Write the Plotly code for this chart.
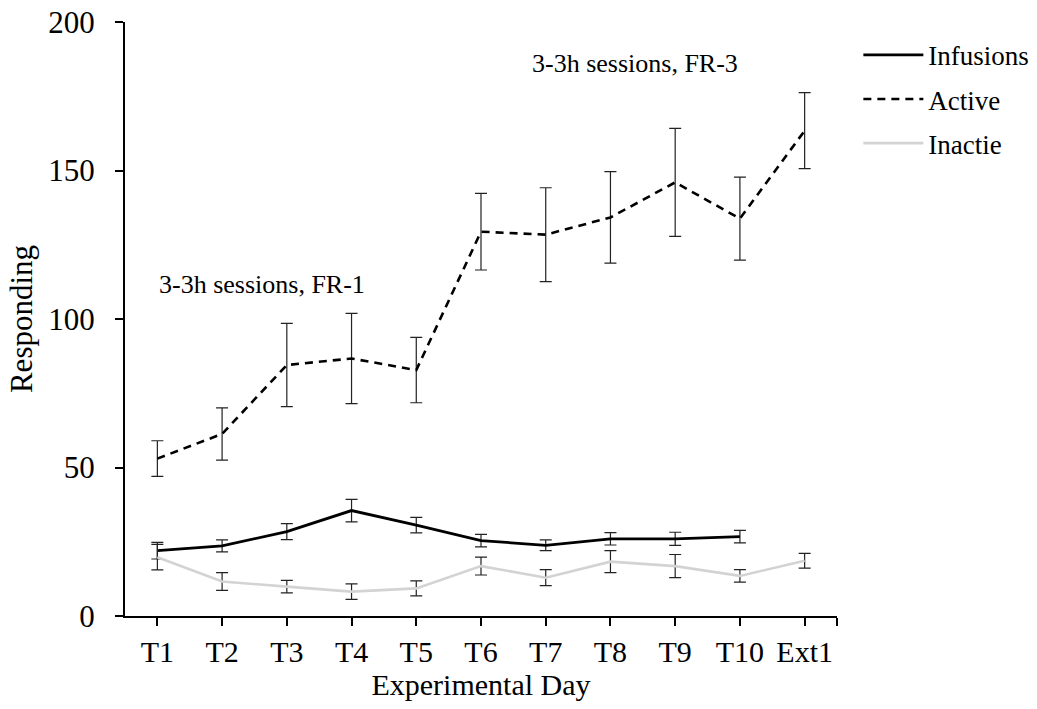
import plotly.graph_objects as go

days = ["T1", "T2", "T3", "T4", "T5", "T6", "T7", "T8", "T9", "T10", "Ext1"]
x_idx = list(range(len(days)))

infusions = [22.0, 23.6, 28.4, 35.5, 30.6, 25.4, 23.8, 26.0, 26.0, 26.7]
infusions_err = [2.8, 2.0, 2.7, 3.8, 2.6, 2.1, 1.8, 2.1, 2.2, 2.1]

active = [53.0, 61.3, 84.5, 86.7, 82.8, 129.4, 128.4, 134.2, 146.0, 133.8, 163.4]
active_err = [6.0, 8.8, 14.0, 15.2, 11.0, 12.9, 15.8, 15.4, 18.2, 14.0, 12.8]

inactive = [19.8, 11.6, 9.9, 8.2, 9.3, 16.8, 12.9, 18.3, 16.8, 13.5, 18.6]
inactive_err = [4.3, 3.0, 2.1, 2.6, 2.5, 3.0, 2.7, 3.7, 3.9, 2.1, 2.5]

y_ticks = [0, 50, 100, 150, 200]

FONT = "Liberation Serif"
err_style = dict(type="data", visible=True, color="#222222", thickness=1.2, width=6)

fig = go.Figure()
fig.add_trace(go.Scatter(
    x=x_idx[:len(infusions)], y=infusions, name="Infusions", mode="lines",
    line=dict(color="black", width=2.8),
    error_y=dict(array=infusions_err, **err_style), legendgroup="a"))
fig.add_trace(go.Scatter(
    x=x_idx, y=active, name="Active", mode="lines",
    line=dict(color="black", width=2.6, dash="8px,6px"),
    error_y=dict(array=active_err, **err_style), legendgroup="b"))
fig.add_trace(go.Scatter(
    x=x_idx, y=inactive, name="Inactie", mode="lines",
    line=dict(color="#d3d3d3", width=2.6),
    error_y=dict(array=inactive_err, **err_style), legendgroup="c"))

fig.update_layout(
    width=1037, height=709,
    margin=dict(l=125, r=200, t=22, b=93, autoexpand=False),
    paper_bgcolor="white", plot_bgcolor="white",
    font=dict(family=FONT, size=30, color="black"),
    showlegend=True,
    legend=dict(x=1.03, y=0.985, xanchor="left", yanchor="top",
                font=dict(family=FONT, size=27, color="black"),
                tracegroupgap=6, itemwidth=60, bgcolor="rgba(0,0,0,0)"),
    xaxis=dict(
        range=[-0.5, 10.5], tickmode="array",
        tickvals=x_idx + [10.5], ticktext=days + [""],
        showline=True, linecolor="black", linewidth=2,
        ticks="outside", ticklen=8, tickwidth=2, tickcolor="black",
        showgrid=False, zeroline=False, automargin=False,
        tickfont=dict(family=FONT, size=30),
        title=dict(text="Experimental Day", font=dict(family=FONT, size=30), standoff=3),
    ),
    yaxis=dict(
        range=[0, 200], tickmode="array", tickvals=y_ticks,
        showline=True, linecolor="black", linewidth=2,
        ticks="outside", ticklen=8, tickwidth=2, tickcolor="black",
        showgrid=False, zeroline=False, automargin=False,
        tickfont=dict(family=FONT, size=31),
        ticklabelstandoff=14,
        title=dict(text="Responding", font=dict(family=FONT, size=31), standoff=6),
    ),
    annotations=[
        dict(x=0.0, y=111.5, xref="x", yref="y", text="3-3h sessions, FR-1",
             showarrow=False, xanchor="left", yanchor="middle",
             font=dict(family=FONT, size=26)),
        dict(x=5.75, y=186, xref="x", yref="y", text="3-3h sessions, FR-3",
             showarrow=False, xanchor="left", yanchor="middle",
             font=dict(family=FONT, size=26)),
    ],
)

fig.write_html("out.html")
